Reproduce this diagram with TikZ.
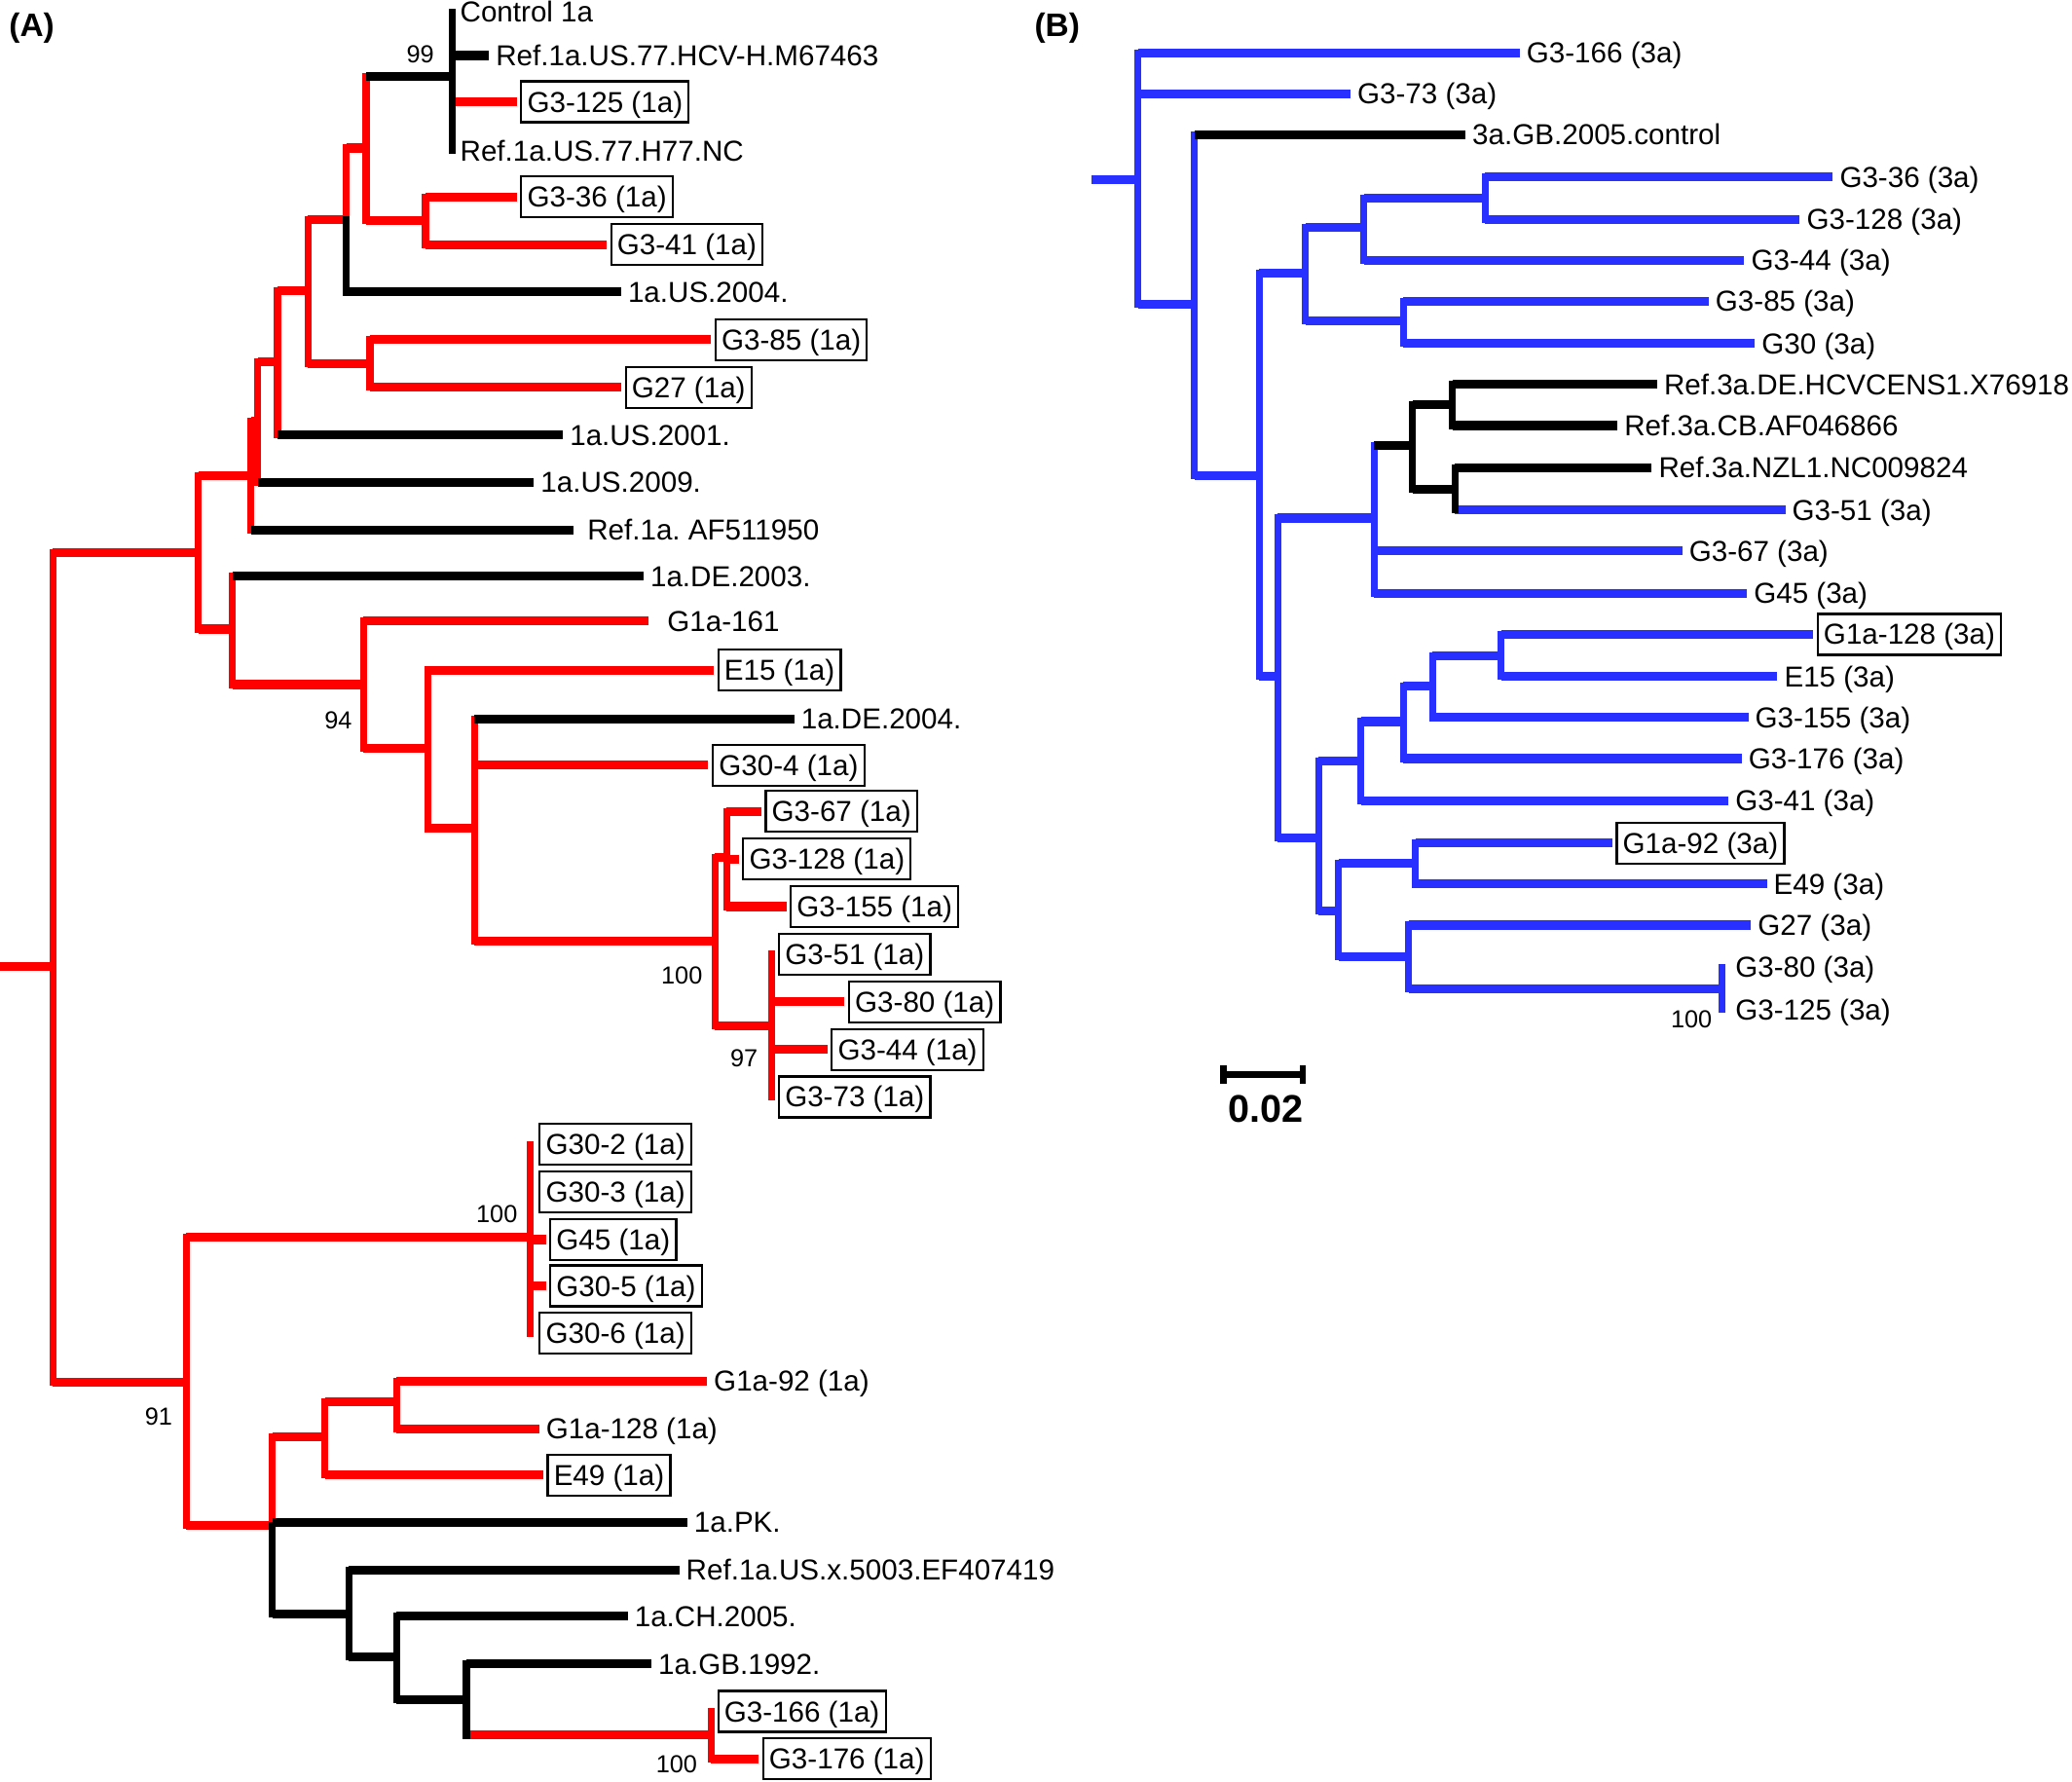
\documentclass[tikz,border=0pt]{standalone}
\usepackage{fontspec}
\setmainfont{Liberation Sans}
\usepackage{tikz}
\definecolor{treeblue}{RGB}{40,48,255}
\tikzset{
  hbr/.style={line width=1.9pt},
  vbr/.style={line width=1.5pt, line cap=rect},
  lab/.style={anchor=west, inner sep=0pt, outer xsep=1.5pt, text height=5.2pt, text depth=0.8pt,
              font=\fontsize{6.2}{7}\selectfont},
  boxlab/.style={lab, draw, line width=0.45pt, inner xsep=1.3pt, inner ysep=1.4pt, outer xsep=1pt},
  boot/.style={inner sep=0pt, font=\fontsize{5.3}{6}\selectfont},
  panel/.style={inner sep=0pt, font=\fontsize{7}{8}\selectfont\bfseries}
}

\begin{document}
\begin{tikzpicture}[x=0.01cm, y=-0.01cm]
	\useasboundingbox (0,0) rectangle (1568,1348);

	% panel A, inner nodes
	\coordinate (ra) at (0,731);
	\coordinate (a0) at (40,731);
	\coordinate (a1) at (150,418);
	\coordinate (a2) at (190,360);
	\coordinate (a3) at (195,319);
	\coordinate (a4) at (210,274);
	\coordinate (a5) at (233,220);
	\coordinate (a6) at (262,166);
	\coordinate (a7) at (277,112);
	\coordinate (a8) at (342,58);
	\coordinate (a9) at (322,167);
	\coordinate (a10) at (280,275);
	\coordinate (a11) at (176,476);
	\coordinate (a12) at (275,518);
	\coordinate (a13) at (324,566);
	\coordinate (a14) at (359,627);
	\coordinate (a15) at (541,712);
	\coordinate (a16) at (550,649);
	\coordinate (a17) at (584,776);
	\coordinate (a18) at (141,1046);
	\coordinate (a19) at (401,936);
	\coordinate (a20) at (206,1154);
	\coordinate (a21) at (246,1087);
	\coordinate (a22) at (300,1061);
	\coordinate (a23) at (264,1221);
	\coordinate (a24) at (300,1254);
	\coordinate (a25) at (353,1286);
	\coordinate (a26) at (538,1313);

	% panel A, leaves
	\node[lab] (ctl) at (343,9) {Control 1a};
	\node[lab] (hcv) at (370,42) {Ref.1a.US.77.HCV-H.M67463};
	\node[boxlab] (g125) at (391,77) {G3-125 (1a)};
	\node[lab] (h77) at (343,114) {Ref.1a.US.77.H77.NC};
	\node[boxlab] (g36) at (391,149) {G3-36 (1a)};
	\node[boxlab] (g41) at (459,185) {G3-41 (1a)};
	\node[lab] (us04) at (470,221) {1a.US.2004.};
	\node[boxlab] (g85) at (538,257) {G3-85 (1a)};
	\node[boxlab] (g27) at (470,293) {G27 (1a)};
	\node[lab] (us01) at (426,329) {1a.US.2001.};
	\node[lab] (us09) at (404,365) {1a.US.2009.};
	\node[lab] (af) at (434,401) {\hspace*{1.5pt}Ref.1a.\ AF511950};
	\node[lab] (de03) at (487,436) {1a.DE.2003.};
	\node[lab] (g161) at (491,470) {\hspace*{2.5pt}G1a-161};
	\node[boxlab] (e15) at (540,507) {E15 (1a)};
	\node[lab] (de04) at (601,544) {1a.DE.2004.};
	\node[boxlab] (g304) at (536,579) {G30-4 (1a)};
	\node[boxlab] (g67) at (576,614) {G3-67 (1a)};
	\node[boxlab] (g128) at (559,650) {G3-128 (1a)};
	\node[boxlab] (g155) at (595,686) {G3-155 (1a)};
	\node[boxlab] (g51) at (586,722) {G3-51 (1a)};
	\node[boxlab] (g80) at (639,758) {G3-80 (1a)};
	\node[boxlab] (g44) at (626,794) {G3-44 (1a)};
	\node[boxlab] (g73) at (586,830) {G3-73 (1a)};
	\node[boxlab] (g302) at (405,866) {G30-2 (1a)};
	\node[boxlab] (g303) at (405,902) {G30-3 (1a)};
	\node[boxlab] (g45) at (413,938) {G45 (1a)};
	\node[boxlab] (g305) at (413,973) {G30-5 (1a)};
	\node[boxlab] (g306) at (405,1009) {G30-6 (1a)};
	\node[lab] (g92) at (535,1045) {G1a-92 (1a)};
	\node[lab] (g1a128) at (408,1081) {G1a-128 (1a)};
	\node[boxlab] (e49) at (411,1116) {E49 (1a)};
	\node[lab] (pk) at (520,1152) {1a.PK.};
	\node[lab] (ef) at (514,1188) {Ref.1a.US.x.5003.EF407419};
	\node[lab] (ch05) at (475,1223) {1a.CH.2005.};
	\node[lab] (gb92) at (493,1259) {1a.GB.1992.};
	\node[boxlab] (g166) at (540,1295) {G3-166 (1a)};
	\node[boxlab] (g176) at (574,1331) {G3-176 (1a)};

	% panel A, branches
	\begin{scope}[red]
		\foreach \p/\c in {ra/a0, a0/a1, a0/a18, a1/a2, a1/a11, a2/a3, a3/a4, a4/a5, a5/a6, a5/a10,
		                   a6/a7, a7/a9, a8/g125, a9/g36, a9/g41, a10/g85, a10/g27, a11/a12, a12/g161,
		                   a12/a13, a13/e15, a13/a14, a14/g304, a14/a15, a15/a16, a15/a17, a16/g67,
		                   a16/g128, a16/g155, a17/g80, a17/g44, a18/a19, a18/a20, a19/g45, a19/g305,
		                   a20/a21, a21/a22, a21/e49, a22/g92, a22/g1a128, a25/a26, a26/g176}
			\draw[hbr] (\p |- \c) -- (\c);
		\foreach \p/\t/\b in {a0/a1/a18, a1/a2/a11, a2/a3/af, a3/a4/us09, a4/a5/us01, a5/a6/a10,
		                      a6/a7/a6, a7/a8/a9, a9/g36/g41, a10/g85/g27, a11/de03/a12, a12/g161/a13,
		                      a13/e15/a14, a14/de04/a15, a15/a16/a17, a16/g67/g155, a17/g51/g73,
		                      a18/a19/a20, a19/g302/g306, a20/a21/a20, a21/a22/e49, a22/g92/g1a128,
		                      a26/g166/g176}
			\draw[vbr] (\p |- \t) -- (\p |- \b);
	\end{scope}
	\begin{scope}[black]
		\foreach \p/\c in {a7/a8, a8/hcv, a6/us04, a4/us01, a3/us09, a2/af, a11/de03, a14/de04,
		                   a20/pk, a20/a23, a23/ef, a23/a24, a24/ch05, a24/a25, a25/gb92}
			\draw[hbr] (\p |- \c) -- (\c);
		\foreach \p/\t/\b in {a8/ctl/h77, a6/a6/us04, a20/a20/a23, a23/ef/a24, a24/ch05/a25, a25/gb92/a26}
			\draw[vbr] (\p |- \t) -- (\p |- \b);
	\end{scope}

	\node[boot] (s99) at (318,41) {99};
	\node[boot] (s94) at (256,545) {94};
	\node[boot] (s100a) at (516,738) {100};
	\node[boot] (s97) at (563,801) {97};
	\node[boot] (s100b) at (376,919) {100};
	\node[boot] (s91) at (120,1072) {91};
	\node[boot] (s100c) at (512,1335) {100};

	% panel B, inner nodes
	\coordinate (rb) at (826,136);
	\coordinate (b0) at (861,136);
	\coordinate (b1) at (904,230);
	\coordinate (b2) at (953,360);
	\coordinate (b3) at (988,207);
	\coordinate (b4) at (1032,172);
	\coordinate (b5) at (1124,150);
	\coordinate (b6) at (1062,243);
	\coordinate (b7) at (967,512);
	\coordinate (b8) at (1040,392);
	\coordinate (b9) at (1069,337);
	\coordinate (b10) at (1099,306);
	\coordinate (b11) at (1101,370);
	\coordinate (b12) at (998,634);
	\coordinate (b13) at (1030,576);
	\coordinate (b14) at (1062,546);
	\coordinate (b15) at (1084,519);
	\coordinate (b16) at (1136,496);
	\coordinate (b17) at (1013,689);
	\coordinate (b18) at (1071,653);
	\coordinate (b19) at (1066,724);
	\coordinate (b20) at (1303,748);

	% panel B, leaves
	\node[lab] (h166) at (1150,40) {G3-166 (3a)};
	\node[lab] (h73) at (1022,71) {G3-73 (3a)};
	\node[lab] (hctl) at (1109,102) {3a.GB.2005.control};
	\node[lab] (h36) at (1387,134) {G3-36 (3a)};
	\node[lab] (h128) at (1362,166) {G3-128 (3a)};
	\node[lab] (h44) at (1320,197) {G3-44 (3a)};
	\node[lab] (h85) at (1293,228) {G3-85 (3a)};
	\node[lab] (h30) at (1328,260) {G30 (3a)};
	\node[lab] (hde) at (1254,291) {Ref.3a.DE.HCVCENS1.X76918};
	\node[lab] (hcb) at (1224,322) {Ref.3a.CB.AF046866};
	\node[lab] (hnz) at (1250,354) {Ref.3a.NZL1.NC009824};
	\node[lab] (h51) at (1351,386) {G3-51 (3a)};
	\node[lab] (h67) at (1273,417) {G3-67 (3a)};
	\node[lab] (h45) at (1322,449) {G45 (3a)};
	\node[boxlab] (h1a128) at (1372,480) {G1a-128 (3a)};
	\node[lab] (he15) at (1345,512) {E15 (3a)};
	\node[lab] (h155) at (1323,543) {G3-155 (3a)};
	\node[lab] (h176) at (1318,574) {G3-176 (3a)};
	\node[lab] (h41) at (1308,606) {G3-41 (3a)};
	\node[boxlab] (h1a92) at (1220,638) {G1a-92 (3a)};
	\node[lab] (he49) at (1337,669) {E49 (3a)};
	\node[lab] (h27) at (1325,700) {G27 (3a)};
	\node[lab] (h80) at (1308,732) {G3-80 (3a)};
	\node[lab] (h125) at (1308,764) {G3-125 (3a)};

	% panel B, branches
	\begin{scope}[treeblue]
		\foreach \p/\c in {rb/b0, b0/h166, b0/h73, b0/b1, b1/b2, b2/b3, b2/b7, b3/b4, b3/b6, b4/b5,
		                   b4/h44, b5/h36, b5/h128, b6/h85, b6/h30, b7/b8, b7/b12, b8/h67, b8/h45,
		                   b11/h51, b12/b13, b12/b17, b13/b14, b13/h41, b14/b15, b14/h176, b15/b16,
		                   b15/h155, b16/h1a128, b16/he15, b17/b18, b17/b19, b18/h1a92, b18/he49,
		                   b19/h27, b19/b20}
			\draw[hbr] (\p |- \c) -- (\c);
		\foreach \p/\t/\b in {b0/h166/b1, b1/hctl/b2, b2/b3/b7, b3/b4/b6, b4/b5/h44, b5/h36/h128,
		                      b6/h85/h30, b7/b8/b12, b8/b9/h45, b12/b13/b17, b13/b14/h41, b14/b15/h176,
		                      b15/b16/h155, b16/h1a128/he15, b17/b18/b19, b18/h1a92/he49, b19/h27/b20,
		                      b20/h80/h125}
			\draw[vbr] (\p |- \t) -- (\p |- \b);
	\end{scope}
	\begin{scope}[black]
		\foreach \p/\c in {b1/hctl, b8/b9, b9/b10, b9/b11, b10/hde, b10/hcb, b11/hnz}
			\draw[hbr] (\p |- \c) -- (\c);
		\foreach \p/\t/\b in {b9/b10/b11, b10/hde/hcb, b11/hnz/h51}
			\draw[vbr] (\p |- \t) -- (\p |- \b);
	\end{scope}

	\node[boot] (s100d) at (1280,771) {100};

	% scale bar
	\coordinate (sb1) at (926,813);
	\coordinate (sb2) at (986,813);
	\draw[line width=1.4pt] (sb1) -- (sb2);
	\draw[line width=1.4pt] ([yshift=-0.07cm]sb1) -- ([yshift=0.07cm]sb1);
	\draw[line width=1.4pt] ([yshift=-0.07cm]sb2) -- ([yshift=0.07cm]sb2);
	\node[inner sep=0pt, font=\fontsize{8.3}{9}\selectfont\bfseries] (sbl) at (958,839) {0.02};

	\node[panel] (pa) at (24,21) {(A)};
	\node[panel] (pb) at (800,21) {(B)};
\end{tikzpicture}
\end{document}
